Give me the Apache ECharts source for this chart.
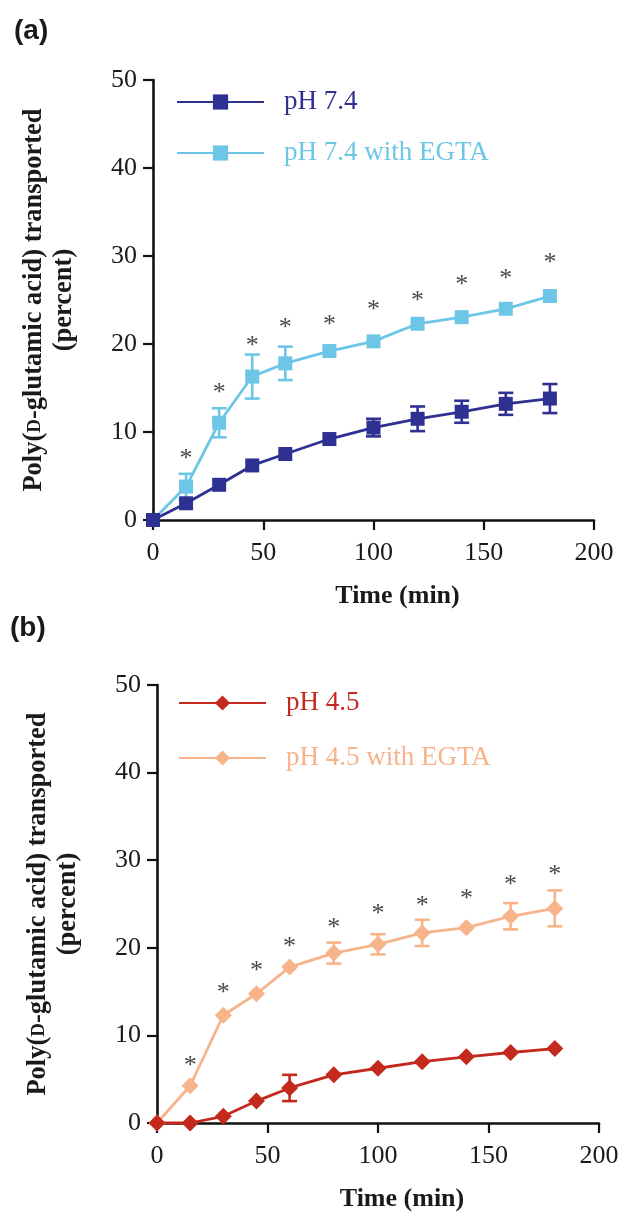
<!DOCTYPE html>
<html><head><meta charset="utf-8">
<script src="https://cdn.jsdelivr.net/npm/echarts@6/dist/echarts.min.js"></script>
<style>html,body{margin:0;padding:0;background:#fff}#c{width:625px;height:1218px}</style>
</head><body><div id="c"></div>
<script>
// ---- data ----
const times = [0, 15, 30, 45, 60, 80, 100, 120, 140, 160, 180];
const xTickValues = [0, 50, 100, 150, 200];
const yTickValues = [0, 10, 20, 30, 40, 50];

// panel (a)
const ph74 = [0, 1.9, 4.0, 6.2, 7.5, 9.2, 10.5, 11.5, 12.3, 13.2, 13.8];
const ph74Err = [0, 0, 0, 0, 0, 0, 1.0, 1.4, 1.25, 1.25, 1.65];
const ph74Egta = [0, 3.8, 11.05, 16.3, 17.8, 19.2, 20.3, 22.3, 23.05, 24.0, 25.45];
const ph74EgtaErr = [0, 1.45, 1.65, 2.5, 1.9, 0, 0, 0, 0, 0, 0];
const starsA = [null, 7.6, 15.15, 20.4, 22.5, 22.8, 24.5, 25.5, 27.4, 28.0, 29.9];

// panel (b)
const ph45 = [0, 0, 0.76, 2.5, 4.0, 5.5, 6.25, 7.0, 7.55, 8.05, 8.5];
const ph45Err = [0, 0, 0, 0, 1.5, 0, 0, 0, 0, 0, 0];
const ph45Egta = [0, 4.25, 12.3, 14.75, 17.8, 19.4, 20.4, 21.7, 22.3, 23.6, 24.5];
const ph45EgtaErr = [0, 0, 0, 0, 0, 1.2, 1.15, 1.5, 0, 1.5, 2.05];
const starsB = [null, 7.15, 15.5, 18.0, 20.7, 22.9, 24.5, 25.4, 26.2, 27.8, 29.0];

const names = ['pH 7.4', 'pH 7.4 with EGTA', 'pH 4.5', 'pH 4.5 with EGTA'];
const colors = ['#2e3092', '#6ec6e6', '#c4291e', '#f7b48a'];

// ---- helpers ----
const SERIF = '"Liberation Serif", "Times New Roman", serif';
const pairs = (vals) => times.map((t, i) => [t, vals[i]]);
const triples = (vals, errs) => times.map((t, i) => [t, vals[i], errs[i]]);
const starPairs = (vals) => times.map((t, i) => [t, vals[i]]).filter(p => p[1] != null);

function errRender(color) {
  return function (params, api) {
    const x = api.value(0), y = api.value(1), e = api.value(2);
    if (!e) return null;
    const top = api.coord([x, y + e]), bot = api.coord([x, y - e]);
    const w = 7.5;
    const ls = { stroke: color, lineWidth: 2.6 };
    return { type: 'group', children: [
      { type: 'line', shape: { x1: top[0], y1: top[1], x2: bot[0], y2: bot[1] }, style: ls },
      { type: 'line', shape: { x1: top[0] - w, y1: top[1], x2: top[0] + w, y2: top[1] }, style: ls },
      { type: 'line', shape: { x1: bot[0] - w, y1: bot[1], x2: bot[0] + w, y2: bot[1] }, style: ls }
    ]};
  };
}
function starRender(params, api) {
  const p = api.coord([api.value(0), api.value(1)]);
  return { type: 'text', style: { text: '*', x: p[0], y: p[1] + 6, align: 'center', verticalAlign: 'middle',
    font: '26px ' + SERIF, fill: '#4a4a4a' } };
}

function xAxisCfg(gridIndex) {
  return {
    gridIndex, type: 'value', min: xTickValues[0], max: xTickValues[xTickValues.length - 1],
    interval: xTickValues[1] - xTickValues[0],
    name: 'Time (min)', nameLocation: 'middle', nameGap: 63,
    nameTextStyle: { fontFamily: SERIF, fontWeight: 'bold', fontSize: 26, color: '#1a1a1a', padding: [0, 0, 0, 48] },
    axisLine: { show: true, onZero: false, lineStyle: { color: '#111', width: 2.6 } },
    axisTick: { show: true, length: 10, lineStyle: { color: '#111', width: 2.2 } },
    axisLabel: { fontFamily: SERIF, fontSize: 26, color: '#1a1a1a', margin: 20 },
    splitLine: { show: false }
  };
}
function yAxisCfg(gridIndex) {
  return {
    gridIndex, type: 'value', min: yTickValues[0], max: yTickValues[yTickValues.length - 1],
    interval: yTickValues[1] - yTickValues[0],
    name: 'Poly({sc|D}-glutamic acid) transported\n(percent)', nameLocation: 'middle', nameRotate: 90, nameGap: 74,
    nameTextStyle: { fontFamily: SERIF, fontWeight: 'bold', fontSize: 26.5, lineHeight: 30, color: '#1a1a1a',
      rich: { sc: { fontFamily: SERIF, fontWeight: 'bold', fontSize: 19, lineHeight: 30, color: '#1a1a1a', padding: [3, 0, 0, 0] } } },
    axisLine: { show: true, lineStyle: { color: '#111', width: 2.6 } },
    axisTick: { show: true, length: 10, lineStyle: { color: '#111', width: 2.2 } },
    axisLabel: { fontFamily: SERIF, fontSize: 26, color: '#1a1a1a', margin: 16 },
    splitLine: { show: false }
  };
}
function lineSeries(i, vals, axisIdx, symbol, size) {
  return {
    name: names[i], type: 'line', xAxisIndex: axisIdx, yAxisIndex: axisIdx, data: pairs(vals),
    symbol, symbolSize: size, showAllSymbol: true, clip: false, z: 3,
    lineStyle: { color: colors[i], width: 2.8 }, itemStyle: { color: colors[i] }
  };
}
function errSeries(i, vals, errs, axisIdx) {
  return { type: 'custom', xAxisIndex: axisIdx, yAxisIndex: axisIdx, data: triples(vals, errs),
    renderItem: errRender(colors[i]), z: 2, silent: true };
}
function starSeries(vals, axisIdx) {
  return { type: 'custom', xAxisIndex: axisIdx, yAxisIndex: axisIdx, data: starPairs(vals),
    renderItem: starRender, z: 4, silent: true };
}
function legendCfg(a, b, left, top, gap) {
  return {
    orient: 'vertical', left, top, itemWidth: 87, itemHeight: 19, itemGap: gap,
    textStyle: { fontFamily: SERIF, fontSize: 27, lineHeight: 30, padding: [0, 0, 0, 15] },
    data: [ { name: names[a], textStyle: { color: colors[a] } }, { name: names[b], textStyle: { color: colors[b] } } ]
  };
}

const chart = echarts.init(document.getElementById('c'), null, { renderer: 'canvas' });
chart.setOption({
  animation: false,
  backgroundColor: '#ffffff',
  grid: [
    { left: 153, right: 31, top: 80, height: 440 },
    { left: 157, right: 26, top: 685, height: 438 }
  ],
  xAxis: [xAxisCfg(0), xAxisCfg(1)],
  yAxis: [yAxisCfg(0), yAxisCfg(1)],
  legend: [legendCfg(0, 1, 171, 82, 21), legendCfg(2, 3, 173, 683, 25)],
  graphic: [
    { type: 'text', left: 14, top: 17, style: { text: '(a)', font: 'bold 28px "Liberation Sans", Arial, sans-serif', fill: '#1a1a1a' } },
    { type: 'text', left: 10, top: 614, style: { text: '(b)', font: 'bold 28px "Liberation Sans", Arial, sans-serif', fill: '#1a1a1a' } }
  ],
  series: [
    errSeries(0, ph74, ph74Err, 0),
    errSeries(1, ph74Egta, ph74EgtaErr, 0),
    lineSeries(1, ph74Egta, 0, 'rect', 14),
    lineSeries(0, ph74, 0, 'rect', 14),
    starSeries(starsA, 0),
    errSeries(2, ph45, ph45Err, 1),
    errSeries(3, ph45Egta, ph45EgtaErr, 1),
    lineSeries(3, ph45Egta, 1, 'diamond', 17),
    lineSeries(2, ph45, 1, 'diamond', 17),
    starSeries(starsB, 1)
  ]
});
</script></body></html>
